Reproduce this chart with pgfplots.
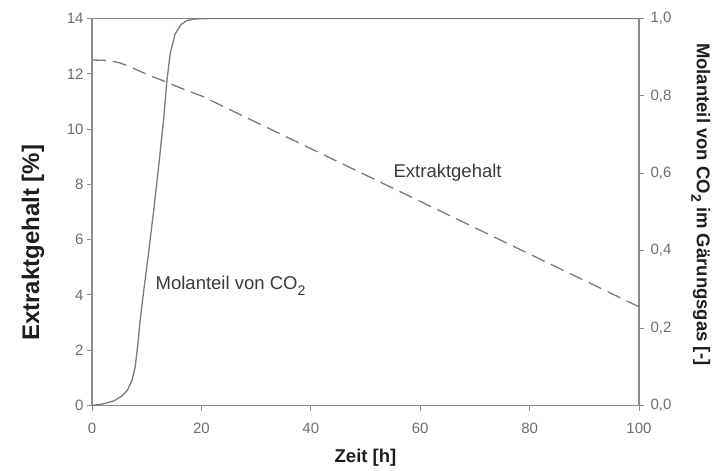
\documentclass[border=0pt]{standalone}
\usepackage{fontspec}
\setmainfont{Liberation Sans}
\usepackage{pgfplots}
\pgfplotsset{compat=1.18}
\definecolor{axgray}{HTML}{8C8C8C}
\definecolor{linegray}{HTML}{7A7A7A}
\definecolor{tickgray}{HTML}{6E6E6E}
\definecolor{labelblack}{HTML}{1E1E1E}
\definecolor{anngray}{HTML}{3A3A3A}
\newcommand{\cotwo}[1]{CO\raisebox{-0.3em}{\fontsize{#1}{#1}\selectfont 2}}
\pgfplotsset{
  common/.style={
    at={(92bp,65.5bp)}, anchor=south west,
    scale only axis, width=547bp, height=387bp,
    xmin=0, xmax=100,
    tick align=outside, major tick length=5bp,
    axis line style={axgray, line width=1.4bp},
    every tick/.style={axgray, line width=1bp},
    tick label style={tickgray, font=\fontsize{15bp}{17bp}\selectfont},
    /pgf/number format/assume math mode=true,
    label style={labelblack, font=\bfseries\fontsize{18.5bp}{22bp}\selectfont},
  }
}
\begin{document}
\begin{tikzpicture}
\useasboundingbox (0,0) rectangle (715bp,471bp);
\begin{axis}[
  common,
  ymin=0, ymax=14,
  xtick={0,20,40,60,80,100}, ytick={0,2,4,6,8,10,12,14},
  xtick pos=bottom, ytick pos=left,
  xticklabel style={yshift=-9bp},
  xlabel={Zeit [h]},
  xlabel style={at={(axis description cs:0.5,-0.1357)}, anchor=center},
  ylabel={Extraktgehalt [\%]},
  ylabel style={at={(axis description cs:-0.108,0.42)}, anchor=center, font=\bfseries\fontsize{24bp}{28bp}\selectfont},
]
\addplot[linegray, line width=1.3bp, dash pattern=on 14bp off 7bp] coordinates {
(0,12.5) (3,12.48) (5,12.4) (7,12.25) (9,12.07) (11,11.9) (13,11.75) (16,11.5) (20,11.2) (100,3.57)
};
\node[anchor=base west, anngray, font=\fontsize{18.5bp}{22bp}\selectfont] at (axis cs:11,4.18) {Molanteil von \cotwo{14bp}};
\node[anchor=base west, anngray, font=\fontsize{18.5bp}{22bp}\selectfont] at (axis cs:54.5,8.23) {Extraktgehalt};
\end{axis}
\begin{axis}[
  common,
  ymin=0, ymax=1,
  axis x line=none, axis y line*=right,
  ytick={0,0.2,0.4,0.6,0.8,1},
  ytick pos=right,
  yticklabel style={xshift=3bp, /pgf/number format/.cd, fixed, fixed zerofill, precision=1, use comma},
  ylabel={Molanteil von \cotwo{14bp} im Gärungsgas [-]},
  ylabel style={at={(axis description cs:1.113,0.52)}, anchor=center, rotate=180},
]
\addplot[linegray, line width=1.3bp] coordinates {
(0,0) (2,0.004) (4,0.012) (5.5,0.025) (6.5,0.04) (7.3,0.065) (7.9,0.1) (8.4,0.16) (8.8,0.22) (9.4,0.29) (10.3,0.39) (11.25,0.5) (12.2,0.62) (13.1,0.74) (13.7,0.84) (14.3,0.91) (15.2,0.96) (16.3,0.985) (17.4,0.995) (19,0.999) (22,1) (100,1)
};
\end{axis}
\end{tikzpicture}
\end{document}
